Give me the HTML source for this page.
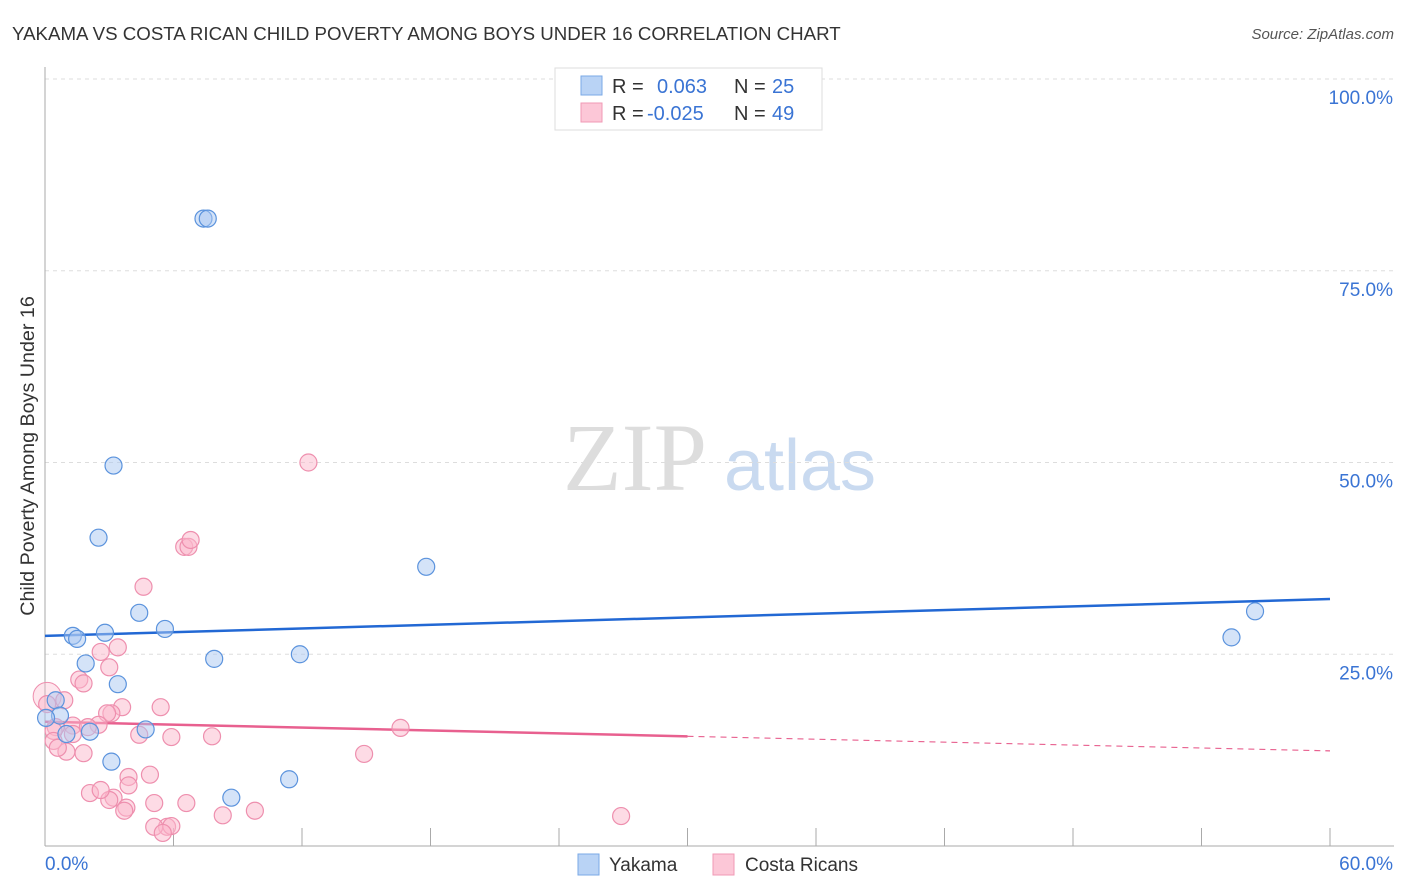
<!DOCTYPE html>
<html><head><meta charset="utf-8"><style>
body{margin:0;background:#fff;font-family:"Liberation Sans",sans-serif;}
svg{display:block}
</style></head><body>
<svg id="chart" width="1406" height="892">
<text x="12" y="40" font-size="18.7" fill="#333">YAKAMA VS COSTA RICAN CHILD POVERTY AMONG BOYS UNDER 16 CORRELATION CHART</text>
<text x="1394" y="39" font-size="15" fill="#555" text-anchor="end" font-style="italic">Source: ZipAtlas.com</text>
<text x="0" y="0" transform="translate(34,456) rotate(-90)" font-size="19.7" fill="#333" text-anchor="middle">Child Poverty Among Boys Under 16</text>
<g><text x="635" y="490" font-size="96" font-family="Liberation Serif,serif" fill="#ddd" text-anchor="middle">ZIP</text><text x="800" y="490" font-size="72" fill="#c9daf0" text-anchor="middle">atlas</text></g>
<g id="grid"></g><g id="axes"></g><g id="trend"></g><g id="pts"></g>
<g>
<rect x="555" y="68" width="267" height="62" fill="#fff" stroke="#ddd"/>
<rect x="581" y="76" width="21" height="19" fill="#b9d3f5" stroke="#7aa8e6"/>
<rect x="581" y="103" width="21" height="19" fill="#fcc7d7" stroke="#f09ab5"/>
<text x="612" y="93" font-size="20" fill="#333">R = </text><text x="657" y="93" font-size="20" fill="#3a74d4">0.063</text>
<text x="734" y="93" font-size="20" fill="#333">N = </text><text x="772" y="93" font-size="20" fill="#3a74d4">25</text>
<text x="612" y="120" font-size="20" fill="#333">R = </text><text x="647" y="120" font-size="20" fill="#3a74d4">-0.025</text>
<text x="734" y="120" font-size="20" fill="#333">N = </text><text x="772" y="120" font-size="20" fill="#3a74d4">49</text>
</g>
<g>
<rect x="578" y="854" width="21" height="21" fill="#b9d3f5" stroke="#7aa8e6"/>
<text x="609" y="871" font-size="19" fill="#333">Yakama</text>
<rect x="713" y="854" width="21" height="21" fill="#fcc7d7" stroke="#f09ab5"/>
<text x="745" y="871" font-size="19" fill="#333">Costa Ricans</text>
</g>
</svg>
<script>
const xTicks=[0,6,12,18,24,30,36,42,48,54,60];
const yTicks=[25,50,75,100];
const blueX=[7.4,7.6,3.2,2.5,17.8,4.4,5.6,1.3,1.5,2.8,1.9,3.4,7.9,11.9,0.5,3.1,8.7,11.4,4.7,2.1,0.7,0.05,56.5,55.4,1.0];
const blueY=[81.8,81.8,49.6,40.2,36.4,30.4,28.3,27.4,27.0,27.8,23.8,21.1,24.4,25.0,19.0,11.0,6.3,8.7,15.2,14.9,17.0,16.7,30.6,27.2,14.6];
const pinkX=[12.3,6.5,6.7,6.8,4.6,3.4,2.6,3.0,1.6,1.8,5.4,3.6,3.1,2.9,0.9,0.1,7.8,4.4,5.9,1.0,1.8,2.5,2.1,3.2,3.0,2.6,3.8,3.9,3.7,4.9,3.9,5.1,5.7,6.6,8.3,9.8,5.1,5.9,5.5,0.5,1.3,2.0,14.9,0.4,0.4,0.6,1.3,16.6,26.9];
const pinkY=[50.0,39.0,39.0,39.9,33.8,25.9,25.3,23.3,21.7,21.2,18.1,18.1,17.3,17.3,19.0,18.5,14.3,14.5,14.2,12.3,12.1,15.8,6.9,6.3,6.0,7.3,5.0,9.0,4.6,9.3,7.9,5.6,2.5,5.6,4.0,4.6,2.5,2.6,1.7,15.5,15.7,15.5,12.0,15.0,13.7,12.8,14.6,15.4,3.9];
const blueTrend=[27.4,32.2];
const pinkTrend=[16.2,12.4];
const X=v=>45+v*(1330-45)/60, Y=v=>846-v*(846-79)/100;
const NS='http://www.w3.org/2000/svg';
function mk(p,t,a){const e=document.createElementNS(NS,t);for(const k in a)e.setAttribute(k,a[k]);p.appendChild(e);return e;}
const grid=document.getElementById('grid'),axes=document.getElementById('axes'),tr=document.getElementById('trend'),pts=document.getElementById('pts');
yTicks.forEach(v=>{
 const l=mk(grid,'line',{x1:45,x2:1394,y1:Y(v),y2:Y(v),stroke:'#ddd','stroke-dasharray':'4,4'});
 
 
 const t=mk(grid,'text',{x:1393,y:Y(v)+25,'font-size':19,fill:'#3a74d4','text-anchor':'end'});t.textContent=v.toFixed(1)+'%';
 
 
});
const ax=mk(axes,'line',{x1:45,x2:45,y1:67,y2:846,stroke:'#aaa'});


const bx=mk(axes,'line',{x1:45,x2:1394,y1:846,y2:846,stroke:'#aaa'});


xTicks.forEach(v=>{const l=mk(axes,'line',{x1:X(v),x2:X(v),y1:828,y2:846,stroke:'#aaa'});
 
 });
[[0,'start',45],[60,'end',1393]].forEach(([v,a,x])=>{const t=mk(axes,'text',{x:x,y:870,'font-size':19,fill:'#3a74d4','text-anchor':a});t.textContent=v.toFixed(1)+'%';
 
 });
const big=mk(pts,'circle',{cx:X(0.1),cy:Y(19.5),r:14,fill:'#fbb8cc','fill-opacity':0.35,stroke:'#ee8fae','stroke-width':1});


function dots(xs,ys,fill,stroke,name){xs.forEach((x,i)=>{const c=mk(pts,'circle',{cx:X(x),cy:Y(ys[i]),r:8.5,fill:fill,'fill-opacity':0.5,stroke:stroke,'stroke-width':1.2});
 
 });}
dots(pinkX,pinkY,'#fbb8cc','#ee8fae','costa-rican-point');
dots(blueX,blueY,'#a9c8f2','#5b93dd','yakama-point');
const bl=mk(tr,'line',{x1:X(0),y1:Y(blueTrend[0]),x2:X(60),y2:Y(blueTrend[1]),stroke:'#2268d4','stroke-width':2.5});


const pm=pinkTrend[0]+(pinkTrend[1]-pinkTrend[0])*0.5;
const pl=mk(tr,'line',{x1:X(0),y1:Y(pinkTrend[0]),x2:X(30),y2:Y(pm),stroke:'#e8608f','stroke-width':2.5});


const pd=mk(tr,'line',{x1:X(30),y1:Y(pm),x2:X(60),y2:Y(pinkTrend[1]),stroke:'#e8608f','stroke-width':1.2,'stroke-dasharray':'6,5'});


</script>
</body></html>
